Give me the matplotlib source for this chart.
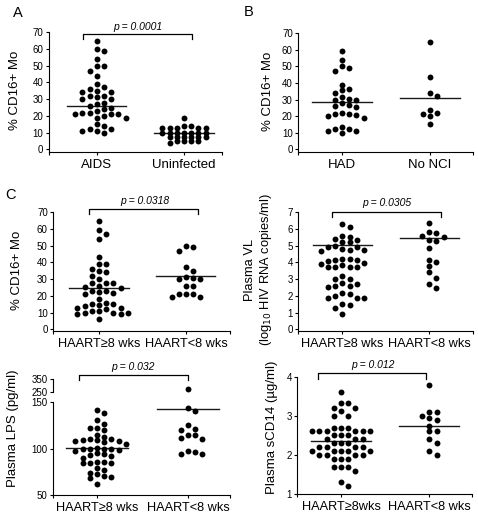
import numpy as np
import matplotlib
matplotlib.use('Agg')
import matplotlib.pyplot as plt
from matplotlib.transforms import blended_transform_factory

plt.rcParams['font.family'] = ['Liberation Sans', 'DejaVu Sans']

W, H = 478, 518

# Panel A: % CD16+ monocytes
a_labels = ['AIDS', 'Uninfected']
a_aids = [65, 60, 59, 54, 50, 50, 47, 44, 39, 37, 36, 35, 34, 34, 32, 32, 31, 30, 30,
          28, 27, 26, 25, 24, 23, 22, 22, 21, 21, 21, 20, 19, 19, 15, 14, 12, 12, 11, 11, 10]
a_uninf = [19, 14, 14, 13, 12.5, 12.5, 12.5, 12.5, 10, 10, 10, 10, 10, 10, 10,
           7.5, 7.5, 7.5, 7.5, 7.5, 7.5, 5, 5, 5, 5, 3.6]
a_lines = [26, 10]

# Panel B
b_labels = ['HAD', 'No NCI']
b_had = [59.5, 54, 50, 49, 47, 39, 36.5, 35.5, 34, 31.5, 30.5, 30, 30, 28, 27, 26, 25.5,
         22, 21, 21, 20.5, 20, 19, 13.5, 12.5, 12, 11, 11, 10]
b_nonci = [64.5, 43.5, 34, 32, 24, 22, 21, 20, 15]
b_lines = [28.7, 30.7]

# Panel C
c_labels = ['HAART\u22658 wks', 'HAART<8 wks']
c_labels2 = ['HAART\u22658wks', 'HAART<8 wks']
cd16_long = [65, 59.5, 57, 54, 43.5, 39, 39, 36, 35, 34, 32, 30, 28, 28, 28, 26, 25.5, 25,
             23, 23, 22.5, 22, 21, 18, 16, 15, 15, 14.5, 14, 13, 13, 12, 11, 11, 10, 10, 10,
             9, 9, 6]
cd16_short = [50, 49, 47, 37, 35, 31.5, 31, 30, 30, 26, 26, 21, 21, 21, 19.5, 19.5]
cd16_lines = [24.8, 31.8]

vl_long = [6.3, 6.15, 5.6, 5.55, 5.4, 5.35, 5.25, 5.2, 5.0, 4.95, 4.95, 4.8, 4.75, 4.75, 4.7,
           4.2, 4.2, 4.15, 4.15, 4.1, 3.95, 3.9, 3.85, 3.75, 3.75, 3.75, 3.7, 3.2, 3.0, 3.0,
           2.8, 2.7, 2.6, 2.6, 2.55, 2.15, 2.1, 2.0, 1.9, 1.85, 1.85, 1.5, 1.45, 1.3, 0.9]
vl_short = [6.35, 5.8, 5.75, 5.6, 5.5, 5.35, 5.3, 4.85, 4.15, 4.0, 3.8, 3.4, 3.1, 2.7, 2.5]
vl_lines = [5.05, 5.45]

lps_long = [142, 138, 131, 127, 122, 122, 120, 115, 113, 110, 110, 109, 109, 108, 108, 107,
            105, 101, 100, 100, 100, 100, 99, 97, 95, 94, 93, 92, 90, 86, 86, 85, 85, 84,
            79, 77, 74, 73, 71, 69, 68, 62]
lps_short = [275, 144, 141, 125, 121, 120, 115, 115, 111, 110, 98, 96, 94, 94]
lps_lines = [101, 143]

scd14_long = [3.6, 3.32, 3.32, 3.2, 3.2, 3.12, 3.0, 3.0, 2.7, 2.7, 2.7, 2.6, 2.6, 2.6, 2.6,
              2.6, 2.6, 2.5, 2.5, 2.5, 2.4, 2.4, 2.4, 2.3, 2.3, 2.3, 2.2, 2.2, 2.2, 2.2, 2.1,
              2.1, 2.1, 2.1, 2.1, 2.0, 2.0, 2.0, 2.0, 1.9, 1.9, 1.9, 1.7, 1.7, 1.7, 1.6, 1.3, 1.2]
scd14_short = [3.8, 3.1, 3.1, 3.0, 2.95, 2.9, 2.75, 2.6, 2.6, 2.4, 2.3, 2.1, 2.0]
scd14_lines = [2.35, 2.75]

fig = plt.figure(figsize=(W / 100, H / 100), dpi=100)


def make_ax(l, t, r, b, xlim, ylim):
    ax = fig.add_axes([l / W, 1 - b / H, (r - l) / W, (b - t) / H])
    ax.set_xlim(*xlim)
    ax.set_ylim(*ylim)
    for s in ['top', 'right']:
        ax.spines[s].set_visible(False)
    for s in ['left', 'bottom']:
        ax.spines[s].set_linewidth(0.8)
    ax.tick_params(axis='y', length=2.5, width=0.8, labelsize=7, pad=1.5)
    ax.tick_params(axis='x', which='both', length=2.5, width=0.8, pad=2.5)
    ax.set_xticks([xlim[0], xlim[1]], minor=True)
    return ax


def swarm(ax, x0, vals, d=7.2, r=5.2):
    vals = np.asarray(vals, float)
    pts = ax.transData.transform(np.column_stack([np.full(len(vals), x0), vals]))
    placed = []
    xs = np.zeros(len(vals))
    for i in np.argsort(-pts[:, 1]):
        for k in [0, 1, -1, 2, -2, 3, -3, 4, -4, 5, -5, 6, -6]:
            cx = pts[i, 0] + k * d
            if all((cx - px) ** 2 + (pts[i, 1] - py) ** 2 >= r * r for px, py in placed):
                break
        placed.append((cx, pts[i, 1]))
        xs[i] = cx
    xd = ax.transData.inverted().transform(np.column_stack([xs, pts[:, 1]]))[:, 0]
    ax.scatter(xd, vals, s=18, color='black', linewidths=0, clip_on=False, zorder=3)


def groups(ax, data, lines, labels, fs=9.5, radii=(5.2, 5.2)):
    for i, v in enumerate(data):
        swarm(ax, i, v, r=radii[i])
    for i, m in enumerate(lines):
        ax.plot([i - 0.34, i + 0.34], [m, m], color='#1a1a1a', lw=1.0, zorder=2)
    ax.set_xticks(range(len(labels)))
    ax.set_xticklabels(labels, fontsize=fs)


def bracket(ax, x0, x1, ytop, ybot, label, tx, ty):
    tr = blended_transform_factory(ax.transData, fig.transFigure)
    ax.plot([x0, x0, x1, x1], [1 - ybot / H, 1 - ytop / H, 1 - ytop / H, 1 - ybot / H],
            color='black', lw=0.9, transform=tr, clip_on=False)
    fig.text(tx / W, 1 - ty / H, label, fontsize=7.5, style='italic', ha='center', va='center')


def ylab(x, y, s, fs=9.5):
    fig.text(x / W, 1 - y / H, s, rotation=90, ha='center', va='center', fontsize=fs,
             multialignment='center')


# A
axA = make_ax(49, 32.3, 221.7, 152, (-0.547, 1.433), (-1.6, 70))
axA.set_yticks(range(0, 71, 10))
groups(axA, [a_aids, a_uninf], a_lines, a_labels, radii=(5.2, 4.0))
bracket(axA, -0.154, 1.088, 33.5, 39.3, 'p = 0.0001', 138, 26.7)
ylab(15, 90, '% CD16+ Mo')

# B
axB = make_ax(298.3, 33.3, 473, 151.7, (-0.496, 1.488), (-1.45, 70))
axB.set_yticks(range(0, 71, 10))
groups(axB, [b_had, b_nonci], b_lines, b_labels)
ylab(268.3, 91, '% CD16+ Mo')

# C: CD16
axC1 = make_ax(53.3, 212.3, 230, 331, (-0.526, 1.507), (-1.0, 70))
axC1.set_yticks(range(0, 71, 10))
groups(axC1, [cd16_long, cd16_short], cd16_lines, c_labels, fs=9.2)
bracket(axC1, -0.11, 1.14, 209.3, 214.3, 'p = 0.0318', 145, 201)
ylab(16.7, 270, '% CD16+ Mo')

# C: viral load
axC2 = make_ax(298.3, 212.3, 473, 331, (-0.507, 1.505), (-0.1, 7))
axC2.set_yticks(range(0, 8))
groups(axC2, [vl_long, vl_short], vl_lines, c_labels, fs=9.2)
bracket(axC2, -0.12, 1.135, 211.7, 216.7, 'p = 0.0305', 386.7, 203.3)
ylab(259, 270, 'Plasma VL\n(log$_{10}$ HIV RNA copies/ml)', fs=9.3)

# C: LPS, broken axis
lps_xlim = (-0.48, 1.462)
axC3t = make_ax(53.3, 379, 230, 392.3, lps_xlim, (250, 350))
axC3t.spines['bottom'].set_visible(False)
axC3t.set_xticks([])
axC3t.set_xticks([], minor=True)
axC3t.set_yticks([250, 350])
axC3 = make_ax(53.3, 402.3, 230, 495, lps_xlim, (50, 150))
axC3.set_yticks([50, 100, 150])
lps_all = [lps_long, lps_short]
groups(axC3, [[v for v in g if v <= 150] for g in lps_all], lps_lines, c_labels, fs=9.2)
for i, g in enumerate(lps_all):
    hi = [v for v in g if v > 150]
    if hi:
        swarm(axC3t, i, hi)
bracket(axC3, -0.2, 1.0, 375, 380, 'p = 0.032', 133.3, 366.7)
ylab(13.3, 428, 'Plasma LPS (pg/ml)')

# C: sCD14
axC4 = make_ax(297.3, 376.7, 472.3, 494, (-0.495, 1.485), (1, 4))
axC4.set_yticks([1, 2, 3, 4])
groups(axC4, [scd14_long, scd14_short], scd14_lines, c_labels2, fs=9.2)
bracket(axC4, -0.26, 0.96, 373.3, 379.3, 'p = 0.012', 373.3, 365)
ylab(271.7, 427, 'Plasma sCD14 (\u00b5g/ml)')

# panel letters
for s, x, y in [('A', 18.3, 13.3), ('B', 248.3, 11.7), ('C', 10, 195)]:
    fig.text(x / W, 1 - y / H, s, fontsize=10.5, ha='center', va='center')

fig.savefig('out.png', dpi=100)
